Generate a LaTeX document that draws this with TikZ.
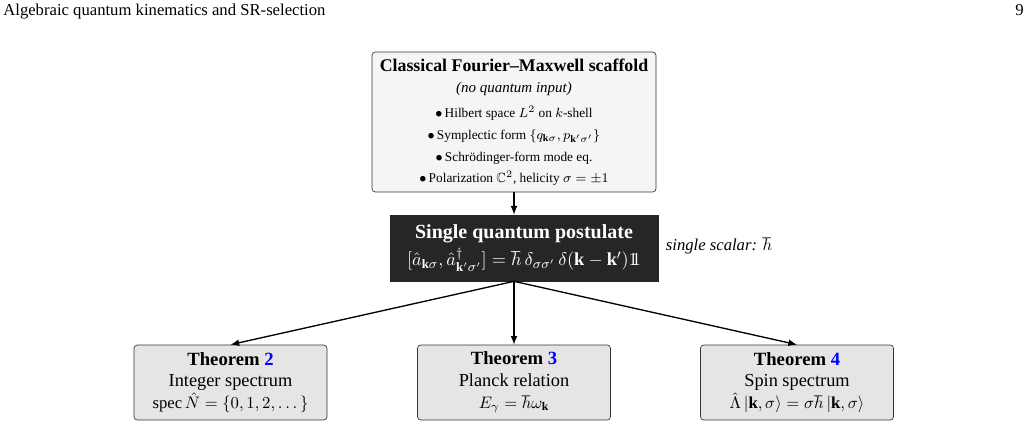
\documentclass[tikz,border=0pt]{standalone}
\usepackage{amsmath}
\usepackage{amssymb}
\usepackage{fontspec}
\setmainfont{Liberation Serif}
\usepackage{xcolor}
\usepackage{tikz}
\usetikzlibrary{shapes.geometric, arrows}
\usetikzlibrary{positioning}
\tikzstyle{arrow} = [thick,->,>=latex]
\tikzstyle{scaffold} = [draw=black!80, fill=black!4, rounded corners=2pt, align=center, minimum width=170.4pt, minimum height=84pt, inner sep=2pt]
\tikzstyle{postulate} = [draw=black!85, fill=black!85, text=white, align=center, minimum width=160.8pt, minimum height=39.6pt, inner sep=2pt]
\tikzstyle{theorem} = [draw=black!80, fill=black!10, rounded corners=2pt, align=center, minimum width=115.8pt, minimum height=45pt, inner sep=2pt]

\begin{document}
\begin{tikzpicture}[x=0.6pt,y=-0.6pt]
        \useasboundingbox (0,0) rectangle (1028,428);
        % Running head
        \node[anchor=base west, inner sep=0pt] (head) at (3,16) {Algebraic quantum kinematics and SR-selection};
        \node[anchor=base east, inner sep=0pt] (pageno) at (1024,16) {9};
        % Classical input
        \node[scaffold] (classic) at (514,122) {{\fontsize{10.7}{13}\selectfont\bfseries Classical Fourier--Maxwell scaffold}\\[1pt]
            {\small\itshape (no quantum input)}\\[3pt]
            {\footnotesize $\bullet$\,Hilbert space $L^2$ on $k$-shell}\\[1pt]
            {\footnotesize $\bullet$\,Symplectic form $\{q_{\mathbf{k}\sigma},p_{\mathbf{k}'\sigma'}\}$}\\[1pt]
            {\footnotesize $\bullet$\,Schr\"odinger-form mode eq.}\\[1pt]
            {\footnotesize $\bullet$\,Polarization $\mathbb{C}^2$, helicity $\sigma=\pm1$}};
        % Quantum postulate
        \node[postulate] (postulate) at (524,248) {{\large\bfseries Single quantum postulate}\\[2pt]
            {\fontsize{11}{13}\selectfont $[\hat{a}_{\mathbf{k}\sigma},\hat{a}^{\dagger}_{\mathbf{k}'\sigma'}]=\hbar\,\delta_{\sigma\sigma'}\,\delta(\mathbf{k}-\mathbf{k}')1\!\!1$}};
        \node[right=1pt of postulate, yshift=1pt] (scalar) {\textit{single scalar: $\hbar$}};
        % Theorems
        \node[theorem] (thmtwo) at (230.5,382.5) {{\fontsize{11.2}{13}\selectfont\bfseries Theorem \textcolor{blue}{2}}\\[1pt]
            {\fontsize{11}{13}\selectfont Integer spectrum}\\[1pt] $\operatorname{spec}\hat{N}=\{0,1,2,\dots\}$};
        \node[theorem] (thmthree) at (514,382.5) {{\fontsize{11.2}{13}\selectfont\bfseries Theorem \textcolor{blue}{3}}\\[1pt]
            {\fontsize{11}{13}\selectfont Planck relation}\\[1pt] $E_{\gamma}=\hbar\omega_{\mathbf{k}}$};
        \node[theorem] (thmfour) at (797,382.5) {{\fontsize{11.2}{13}\selectfont\bfseries Theorem \textcolor{blue}{4}}\\[1pt]
            {\fontsize{11}{13}\selectfont Spin spectrum}\\[1pt] $\hat{\Lambda}\,|\mathbf{k},\sigma\rangle=\sigma\hbar\,|\mathbf{k},\sigma\rangle$};
        % Arrows
        \coordinate (fork) at (postulate.south -| classic.south);
        \draw[arrow] (classic.south) -- (classic.south |- postulate.north);
        \draw[arrow] (fork) -- (thmtwo.north);
        \draw[arrow] (fork) -- (thmthree.north);
        \draw[arrow] (fork) -- (thmfour.north);
\end{tikzpicture}
\end{document}
